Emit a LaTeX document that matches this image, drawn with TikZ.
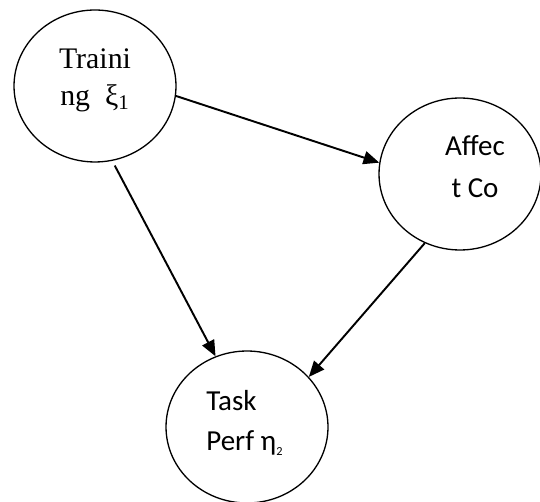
\documentclass[tikz,border=0pt]{standalone}
\usepackage{fontspec}
\setmainfont{Liberation Serif}
\newfontfamily\calibrifont{Carlito}
\usepackage{tikz}
\usetikzlibrary{shapes.geometric, arrows}
\usetikzlibrary{arrows.meta}
\tikzstyle{arrow} = [line width=1.1pt,-{Triangle[length=9pt,width=7.5pt]}]

\begin{document}
\begin{tikzpicture}[x=0.02cm, y=-0.02cm, construct/.style={ellipse, draw, line width=0.75pt, minimum width=3.24cm, minimum height=3.04cm, inner sep=0pt}, construct text/.style={inner sep=0pt, font=#1}]

			\useasboundingbox (0,0) rectangle (540,502);

			% CONSTRUCTS

			\node [construct] (training) at (95,86) {};
			\node [construct] (affect) at (460,174) {};
			\node [construct] (task) at (247,427) {};

			\node [construct text={\fontsize{17pt}{21pt}\selectfont}, align=center] (trainingtext) at (95,80)
			{Traini\\ng\ \ ξ\textsubscript{1}};
			\node [construct text={\calibrifont\fontsize{16.5pt}{23.8pt}\selectfont}, align=center] (affecttext) at (475,167)
			{Affec\\t Co};
			\node [construct text={\calibrifont\fontsize{16.5pt}{22.7pt}\selectfont}, align=left, anchor=west] (tasktext) at (206,423)
			{Task\\Perf η\textsubscript{\scriptsize 2}};

			% PATHS

			\draw [arrow] (training.-7) -- (affect.172);
			\draw [arrow, shorten <=3pt] (training.-77) -- (task.114);
			\draw [arrow] (affect.-117) -- (task.39);

		\end{tikzpicture}
\end{document}
